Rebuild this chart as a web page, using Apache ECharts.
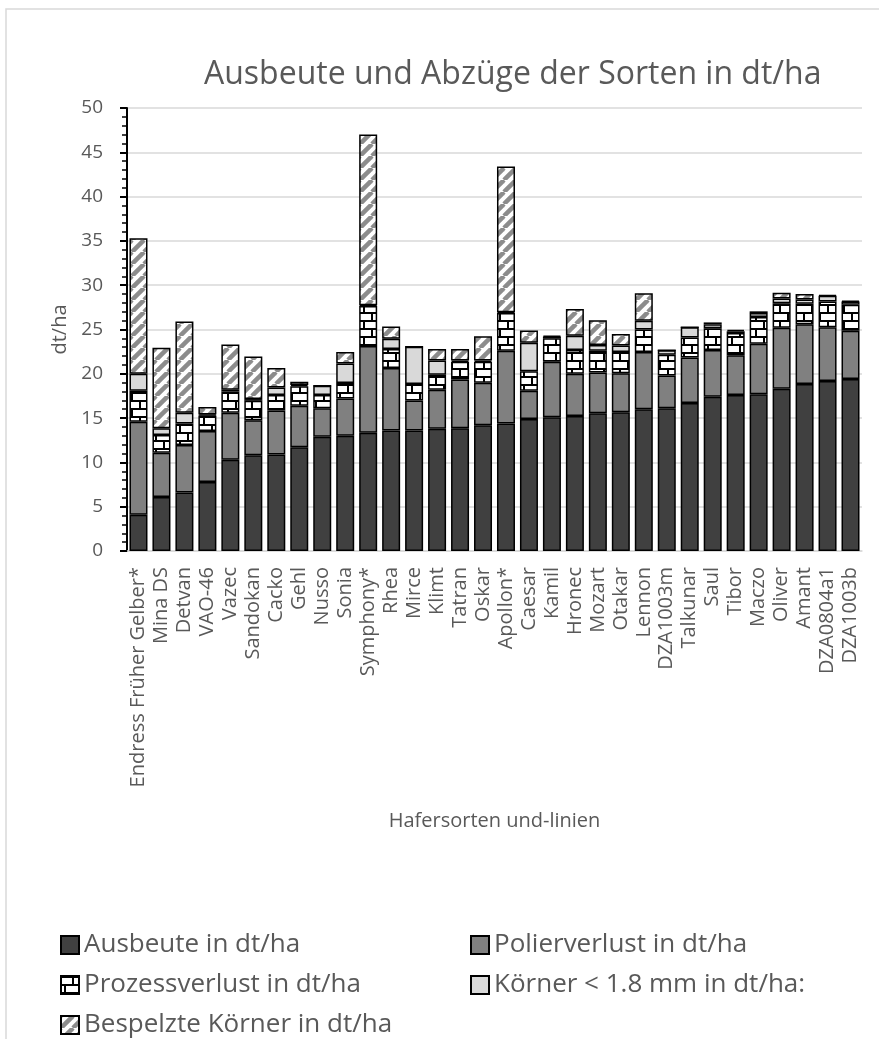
<!DOCTYPE html>
<html>
<head>
<meta charset="utf-8">
<script src="https://cdn.jsdelivr.net/npm/echarts@6/dist/echarts.min.js"></script>
<style>
html,body{margin:0;padding:0;background:#fff;}
#chart{width:879px;height:1039px;}
</style>
</head>
<body>
<div id="chart"></div>
<script>
const categories = ['Endress Früher Gelber*','Mina DS','Detvan','VAO-46','Vazec','Sandokan','Cacko','Gehl','Nusso','Sonia','Symphony*','Rhea','Mirce','Klimt','Tatran','Oskar','Apollon*','Caesar','Kamil','Hronec','Mozart','Otakar','Lennon','DZA1003m','Talkunar','Saul','Tibor','Maczo','Oliver','Amant','DZA0804a1','DZA1003b'];
const ausbeute = [4.1,6.1,6.6,7.8,10.3,10.8,10.9,11.7,12.9,13.0,13.35,13.6,13.6,13.8,13.85,14.2,14.4,14.9,15.1,15.25,15.55,15.65,16.0,16.1,16.7,17.4,17.6,17.7,18.3,18.85,19.2,19.4];
const polierverlust = [10.5,5.0,5.35,5.75,5.3,3.95,4.95,4.7,3.2,4.2,9.8,7.05,3.4,4.4,5.5,4.8,8.2,3.2,6.25,4.75,4.6,4.4,6.45,3.7,5.15,5.3,4.5,5.7,6.9,6.75,6.05,5.45];
const prozessverlust = [3.5,2.0,2.45,1.75,2.4,2.2,1.75,2.2,1.5,1.75,4.5,2.15,1.85,1.7,2.0,2.35,4.25,2.2,2.65,2.7,2.45,2.4,2.55,2.35,2.25,2.45,2.5,3.0,2.75,2.3,2.9,2.95];
const koernerKlein = [1.9,0.75,1.2,0.1,0.2,0.2,0.85,0.15,1.05,2.2,0.1,1.15,4.2,1.6,0.15,0.15,0.1,3.2,0.2,1.6,0.65,0.75,1.0,0.5,1.15,0.45,0.2,0.45,0.55,0.5,0.65,0.35];
const bespelzt = [15.3,9.1,10.3,0.85,5.1,4.8,2.2,0.35,0,1.3,19.25,1.4,0,1.3,1.3,2.75,16.45,1.4,0.1,3.0,2.8,1.3,3.1,0,0,0.2,0.15,0.2,0.65,0.6,0.1,0.1];
const seriesNames = ['Ausbeute in dt/ha','Polierverlust in dt/ha','Prozessverlust in dt/ha','Körner < 1.8 mm in dt/ha:','Bespelzte Körner in dt/ha'];
const yTicks = {min:0, max:50, interval:5};

function brickPattern(){
  const c = document.createElement('canvas'); c.width = 16; c.height = 16;
  const g = c.getContext('2d');
  g.fillStyle = '#ffffff'; g.fillRect(0,0,16,16);
  g.fillStyle = '#000000';
  g.fillRect(0,0,16,2); g.fillRect(0,8,16,2);
  g.fillRect(11,2,2,6); g.fillRect(3,10,2,6);
  return c;
}
function stripePattern(){
  const s = 12;
  const c = document.createElement('canvas'); c.width = s; c.height = s;
  const g = c.getContext('2d');
  g.fillStyle = '#ffffff'; g.fillRect(0,0,s,s);
  g.strokeStyle = '#8c8c8c'; g.lineWidth = 4.5;
  for (let k=-1;k<=1;k++){
    g.beginPath(); g.moveTo(k*s, s); g.lineTo(k*s + s, 0); g.stroke();
  }
  return c;
}

const FONT = 'Open Sans';
const colors = ['#404040','#808080',{image:brickPattern(),repeat:'repeat'},'#d9d9d9',{image:stripePattern(),repeat:'repeat'}];
const values = [ausbeute, polierverlust, prozessverlust, koernerKlein, bespelzt];

const legendBase = {orient:'vertical', top:932, itemGap:14, padding:0, height:140,
  itemWidth:18, itemHeight:18, icon:'rect',
  textStyle:{fontFamily:FONT, fontSize:26, color:'#595959'}};

const chart = echarts.init(document.getElementById('chart'), null, {renderer:'canvas'});
chart.setOption({
  animation:false,
  backgroundColor:'#ffffff',
  graphic:[{type:'rect', silent:true, z:-10, shape:{x:6,y:9,width:1000,height:1200}, style:{fill:'none', stroke:'#d9d9d9', lineWidth:1.5}}],
  title:{text:'Ausbeute und Abzüge der Sorten in dt/ha', left:199, top:54,
    textStyle:{fontFamily:FONT, fontSize:32, fontWeight:'normal', color:'#595959'}},
  legend:[
    Object.assign({}, legendBase, {left:60, data:[seriesNames[0],seriesNames[2],seriesNames[4]]}),
    Object.assign({}, legendBase, {left:470, data:[seriesNames[1],seriesNames[3]]})
  ],
  grid:{left:127, right:17, top:108, bottom:488, containLabel:false},
  xAxis:{type:'category', data:categories,
    name:'Hafersorten und-linien', nameLocation:'middle', nameGap:260,
    nameTextStyle:{fontFamily:FONT, fontSize:20, color:'#595959'},
    axisLine:{lineStyle:{color:'#d9d9d9', width:1.5}},
    axisTick:{show:false},
    axisLabel:{rotate:90, interval:0, margin:16, fontFamily:FONT, fontSize:20, color:'#595959'}},
  yAxis:{type:'value', min:yTicks.min, max:yTicks.max, interval:yTicks.interval,
    name:'dt/ha', nameLocation:'middle', nameGap:48,
    nameTextStyle:{fontFamily:FONT, fontSize:20, color:'#595959'},
    axisLine:{show:true, lineStyle:{color:'#000', width:2}},
    axisTick:{show:true, length:7, lineStyle:{color:'#000', width:2}},
    minorTick:{show:true, splitNumber:5, length:5, lineStyle:{color:'#000', width:1.5}},
    axisLabel:{margin:24, fontFamily:FONT, fontSize:19, color:'#595959'},
    splitLine:{lineStyle:{color:'#d9d9d9', width:1.5}}},
  series: seriesNames.map((n,i)=>({
    name:n, type:'bar', stack:'total', barWidth:18, data:values[i],
    itemStyle:{color:colors[i], borderColor:'#000', borderWidth:1.5}
  }))
});
</script>
</body>
</html>
